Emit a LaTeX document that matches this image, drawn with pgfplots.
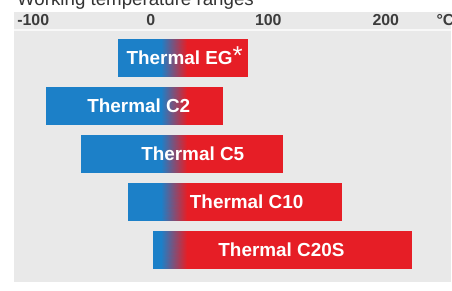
\documentclass[border=0pt]{standalone}
\usepackage{pgfplots}
\pgfplotsset{compat=1.18}
\usepackage{fontspec}
\setmainfont{Liberation Sans}
\definecolor{tblue}{RGB}{28,128,200}
\definecolor{tred}{RGB}{230,30,38}
\definecolor{panel}{RGB}{233,233,233}
\definecolor{ticktext}{RGB}{60,60,60}
% each bar: blue part (meta 0), gradient 9..31 (meta 0 -> 1), red part (meta 1)
\pgfplotstableread{
x y c
-28 0.615 0
9 0.615 0
9 1.385 0
-28 1.385 0
9 0.615 0
31 0.615 1
31 1.385 1
9 1.385 0
31 0.615 1
82 0.615 1
82 1.385 1
31 1.385 1
-89 1.615 0
9 1.615 0
9 2.385 0
-89 2.385 0
9 1.615 0
31 1.615 1
31 2.385 1
9 2.385 0
31 1.615 1
61 1.615 1
61 2.385 1
31 2.385 1
-59 2.615 0
9 2.615 0
9 3.385 0
-59 3.385 0
9 2.615 0
31 2.615 1
31 3.385 1
9 3.385 0
31 2.615 1
112 2.615 1
112 3.385 1
31 3.385 1
-19 3.615 0
9 3.615 0
9 4.385 0
-19 4.385 0
9 3.615 0
31 3.615 1
31 4.385 1
9 4.385 0
31 3.615 1
162 3.615 1
162 4.385 1
31 4.385 1
2 4.615 0
9 4.615 0
9 5.385 0
2 5.385 0
9 4.615 0
31 4.615 1
31 5.385 1
9 5.385 0
31 4.615 1
222 4.615 1
222 5.385 1
31 5.385 1
}\bars
\begin{document}
\begin{tikzpicture}
\fill[white] (0bp,0bp) rectangle (452bp,-291bp);
\node[overlay, anchor=base west, inner sep=0, font=\fontsize{18.8}{20}\selectfont, text=black!80] at (17bp,-6bp) {Working temperature ranges};
\begin{axis}[
 at={(14bp,-12bp)}, anchor=north west, scale only axis, width=438bp, height=270bp,
 xmin=-116.4, xmax=255.7, ymin=0.0417, ymax=5.667, y dir=reverse,
 axis background/.style={fill=panel}, axis line style={draw=none},
 xtick={-100,0,100,200}, ytick=\empty, major tick length=0pt,
 xticklabel pos=upper,
 xticklabel style={anchor=center, yshift=-8bp, font=\fontsize{16}{16}\selectfont\bfseries, text=ticktext},
 /pgf/number format/assume math mode=true,
 colormap={br}{color(0)=(tblue) color(1)=(tred)},
 clip=false,
]
\addplot[white, line width=1.5bp, opacity=0.7] coordinates {(-116.4,0.42) (255.7,0.42)};
\addplot[patch, patch type=rectangle, shader=interp, point meta=explicit] table[x=x, y=y, meta=c] {\bars};
\tikzset{barlabel/.style={anchor=center, text=white, font=\fontsize{19}{19}\selectfont\bfseries}}
\node[barlabel] at (axis cs:24.6,1) {Thermal EG};
\node[barlabel] at (axis cs:-10.2,2) {Thermal C2};
\node[barlabel] at (axis cs:35.7,3) {Thermal C5};
\node[barlabel] at (axis cs:81.6,4) {Thermal C10};
\node[barlabel] at (axis cs:111.2,5) {Thermal C20S};
\node[anchor=center, text=white, font=\fontsize{26}{26}\selectfont] at (axis cs:74,0.95) {*};
\node[overlay, anchor=west, inner sep=0, text=ticktext, font=\fontsize{16}{16}\selectfont\bfseries] at (axis cs:243,0.208) {°C};
\end{axis}
\end{tikzpicture}
\end{document}
